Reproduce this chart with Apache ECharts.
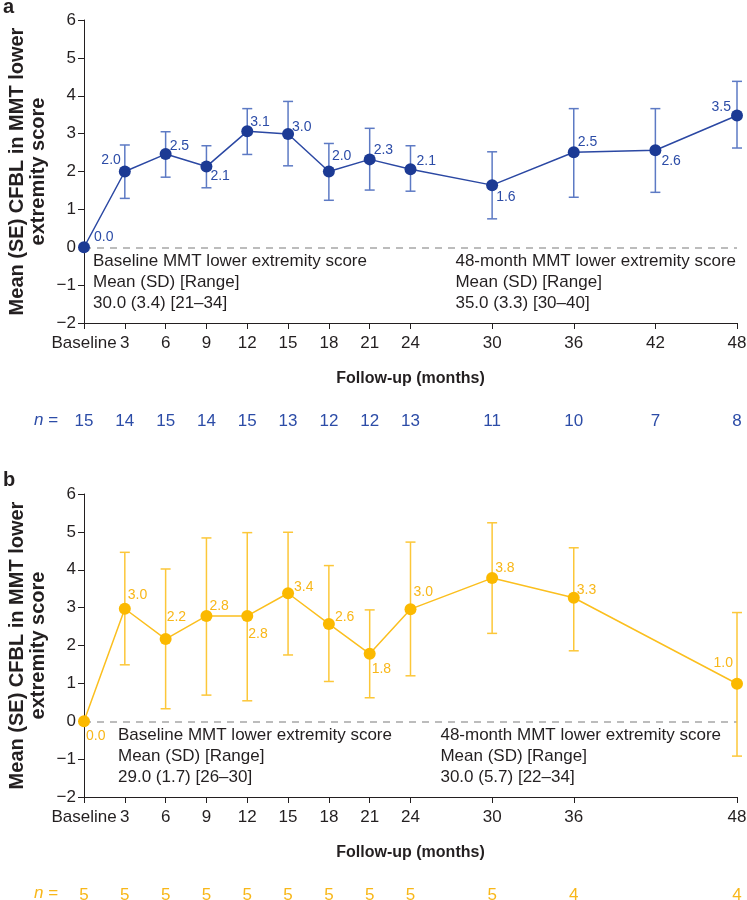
<!DOCTYPE html>
<html>
<head>
<meta charset="utf-8">
<script src="https://cdn.jsdelivr.net/npm/echarts@6/dist/echarts.min.js"></script>
<style>
  html, body { margin: 0; padding: 0; background: #fff; }
  #chart { width: 747px; height: 900px; }
</style>
</head>
<body>
<div id="chart"></div>
<script>
// panel a
const A_MONTHS = [0, 3, 6, 9, 12, 15, 18, 21, 24, 30, 36, 42, 48]
const A_MEAN = [0, 2.0, 2.46, 2.13, 3.06, 2.99, 2.0, 2.32, 2.06, 1.64, 2.51, 2.56, 3.48]
const A_LOW = [null, 1.29, 1.85, 1.57, 2.45, 2.15, 1.24, 1.51, 1.48, 0.75, 1.32, 1.45, 2.62]
const A_HIGH = [null, 2.70, 3.05, 2.68, 3.66, 3.85, 2.74, 3.14, 2.68, 2.52, 3.66, 3.66, 4.38]
const A_N = [15, 14, 15, 14, 15, 13, 12, 12, 13, 11, 10, 7, 8]

// panel b
const B_MONTHS = [0, 3, 6, 9, 12, 15, 18, 21, 24, 30, 36, 48]
const B_MEAN = [0, 2.97, 2.17, 2.78, 2.78, 3.38, 2.57, 1.78, 2.96, 3.78, 3.26, 0.99]
const B_LOW = [null, 1.49, 0.33, 0.69, 0.54, 1.75, 1.05, 0.62, 1.20, 2.32, 1.86, -0.92]
const B_HIGH = [null, 4.46, 4.02, 4.84, 4.98, 4.99, 4.11, 2.94, 4.73, 5.24, 4.58, 2.87]
const B_N = [5, 5, 5, 5, 5, 5, 5, 5, 5, 5, 4, 4]

// where each value label sits next to its point: [side, dx, dy]
const A_LABEL_PLACE = [['r', 4, -10], ['l', 2, -11], ['r', -2, -8], ['r', -2, 10], ['r', -3, -9], ['r', -2, -7], ['r', -3, -15],
  ['r', -2, -9], ['r', 0, -8], ['r', -2, 12], ['r', -2, -10], ['r', 0, 11], ['l', 0, -8]]
const B_LABEL_PLACE = [['r', -4, 15], ['r', -3, -14], ['r', -5, -22], ['r', -3, -10], ['r', -5, 18], ['r', 0, -6], ['r', 0, -7],
  ['r', -4, 15], ['r', -3, -17], ['r', -3, -10], ['r', -3, -8], ['l', 2, -21]]

const TEXT = '#231f20'
const FONT = 'Liberation Sans, Arial, sans-serif'
const BLUE = { point: '#1c3a94', line: '#2b48a3', bar: '#5d7ac4', label: '#2c4ca7' }
const GOLD = { point: '#fbb900', line: '#fbbf1e', bar: '#fcc739', label: '#f8b719' }

const chart = echarts.init(document.getElementById('chart'))

function fmtY(v) {
  return v < 0 ? '\u2212' + (-v) : String(v)
}

function makeAxes(grid, months, nums, col) {
  const x = {
    gridIndex: grid, type: 'value', min: 0, max: 48,
    name: 'Follow-up (months)', nameLocation: 'middle', nameGap: 48,
    nameTextStyle: { fontFamily: FONT, fontSize: 16, fontWeight: 'bold', color: TEXT },
    axisLine: { onZero: false, lineStyle: { color: TEXT, width: 1 } },
    axisTick: { customValues: months, length: 6, lineStyle: { color: TEXT } },
    axisLabel: {
      customValues: months, margin: 12, fontFamily: FONT, fontSize: 17, color: TEXT,
      formatter: v => v === 0 ? 'Baseline' : v
    },
    splitLine: { show: false }
  }
  // second axis only carries the n = row
  const xn = {
    gridIndex: grid, type: 'value', min: 0, max: 48, position: 'bottom', offset: 84,
    axisLine: { show: false, onZero: false }, axisTick: { show: false }, splitLine: { show: false },
    axisLabel: {
      customValues: months, margin: 6, fontFamily: FONT, fontSize: 17, color: col.label,
      formatter: v => nums[months.indexOf(v)]
    }
  }
  const y = {
    gridIndex: grid, type: 'value', min: -2, max: 6, interval: 1,
    name: 'Mean (SE) CFBL in MMT lower\nextremity score', nameLocation: 'middle', nameRotate: 90, nameGap: 35,
    nameMoveOverlap: false,
    nameTextStyle: { fontFamily: FONT, fontSize: 20, fontWeight: 'bold', color: TEXT, lineHeight: 21 },
    axisLine: { show: true, onZero: false, lineStyle: { color: TEXT, width: 1 } },
    axisTick: { show: true, length: 6, lineStyle: { color: TEXT } },
    axisLabel: { fontFamily: FONT, fontSize: 17, color: TEXT, margin: 8, formatter: fmtY },
    splitLine: { show: false }
  }
  return { x, xn, y }
}

function makeSeries(axisIdx, months, mean, low, high, place, col) {
  const bars = []
  months.forEach((m, i) => { if (low[i] != null) bars.push([m, low[i], high[i]]) })
  const errSeries = {
    type: 'custom', xAxisIndex: axisIdx.x, yAxisIndex: axisIdx.y, z: 2, silent: true,
    data: bars,
    encode: { x: 0, y: [1, 2] },
    renderItem(params, api) {
      const lo = api.coord([api.value(0), api.value(1)])
      const hi = api.coord([api.value(0), api.value(2)])
      const w = 5
      const st = { stroke: col.bar, lineWidth: 1.5 }
      return {
        type: 'group',
        children: [
          { type: 'line', shape: { x1: lo[0], y1: lo[1], x2: hi[0], y2: hi[1] }, style: st },
          { type: 'line', shape: { x1: lo[0] - w, y1: lo[1], x2: lo[0] + w, y2: lo[1] }, style: st },
          { type: 'line', shape: { x1: hi[0] - w, y1: hi[1], x2: hi[0] + w, y2: hi[1] }, style: st }
        ]
      }
    }
  }
  const pts = months.map((m, i) => {
    const p = place[i]
    return {
      value: [m, mean[i]],
      label: { position: p[0] === 'l' ? 'left' : 'right', distance: 0, offset: [p[1], p[2]] }
    }
  })
  const lineSeries = {
    type: 'line', xAxisIndex: axisIdx.x, yAxisIndex: axisIdx.y, z: 3,
    data: pts,
    symbol: 'circle', symbolSize: 12,
    itemStyle: { color: col.point },
    lineStyle: { color: col.line, width: 1.5 },
    label: {
      show: true, fontFamily: FONT, fontSize: 14, color: col.label,
      formatter: p => p.value[1].toFixed(1)
    },
    markLine: {
      silent: true, symbol: 'none', z: 1,
      label: { show: false },
      lineStyle: { color: '#a7a7a7', type: [7, 6], width: 1.5 },
      data: [[{ coord: [0, 0] }, { coord: [48, 0] }]]
    }
  }
  return [errSeries, lineSeries]
}

const axA = makeAxes(0, A_MONTHS, A_N, BLUE)
const axB = makeAxes(1, B_MONTHS, B_N, GOLD)

function noteText(pos, top, lines, align) {
  return Object.assign({
    type: 'text', top: top,
    style: {
      text: lines.join('\n'), fontFamily: FONT, fontSize: 17, fill: TEXT,
      lineHeight: 21, align: align
    }
  }, pos)
}

function nLabel(top, color) {
  return {
    type: 'text', left: 34, top: top,
    style: {
      text: '{i|n} =', fontFamily: FONT, fontSize: 17, fill: color,
      rich: { i: { fontStyle: 'italic', fontFamily: FONT, fontSize: 17, fill: color } }
    }
  }
}

const option = {
  animation: false,
  backgroundColor: '#fff',
  grid: [
    { left: 84, top: 20, width: 653, height: 303, outerBoundsMode: 'none', containLabel: false },
    { left: 84, top: 494, width: 653, height: 303, outerBoundsMode: 'none', containLabel: false }
  ],
  xAxis: [axA.x, axA.xn, axB.x, axB.xn],
  yAxis: [axA.y, axB.y],
  series: [
    ...makeSeries({ x: 0, y: 0 }, A_MONTHS, A_MEAN, A_LOW, A_HIGH, A_LABEL_PLACE, BLUE),
    ...makeSeries({ x: 2, y: 1 }, B_MONTHS, B_MEAN, B_LOW, B_HIGH, B_LABEL_PLACE, GOLD)
  ],
  graphic: [
    { type: 'text', left: 3, top: -3, style: { text: 'a', fontFamily: FONT, fontSize: 20, fontWeight: 'bold', fill: TEXT } },
    { type: 'text', left: 3, top: 470, style: { text: 'b', fontFamily: FONT, fontSize: 20, fontWeight: 'bold', fill: TEXT } },
    noteText({ left: 93 }, 251, ['Baseline MMT lower extremity score', 'Mean (SD) [Range]', '30.0 (3.4) [21\u201334]'], 'left'),
    noteText({ right: 11 }, 251, ['48-month MMT lower extremity score', 'Mean (SD) [Range]', '35.0 (3.3) [30\u201340]'], 'right'),
    noteText({ left: 118 }, 725, ['Baseline MMT lower extremity score', 'Mean (SD) [Range]', '29.0 (1.7) [26\u201330]'], 'left'),
    noteText({ right: 26 }, 725, ['48-month MMT lower extremity score', 'Mean (SD) [Range]', '30.0 (5.7) [22\u201334]'], 'right'),
    nLabel(412, BLUE.label),
    nLabel(885, GOLD.label)
  ]
}

chart.setOption(option)
</script>
</body>
</html>
